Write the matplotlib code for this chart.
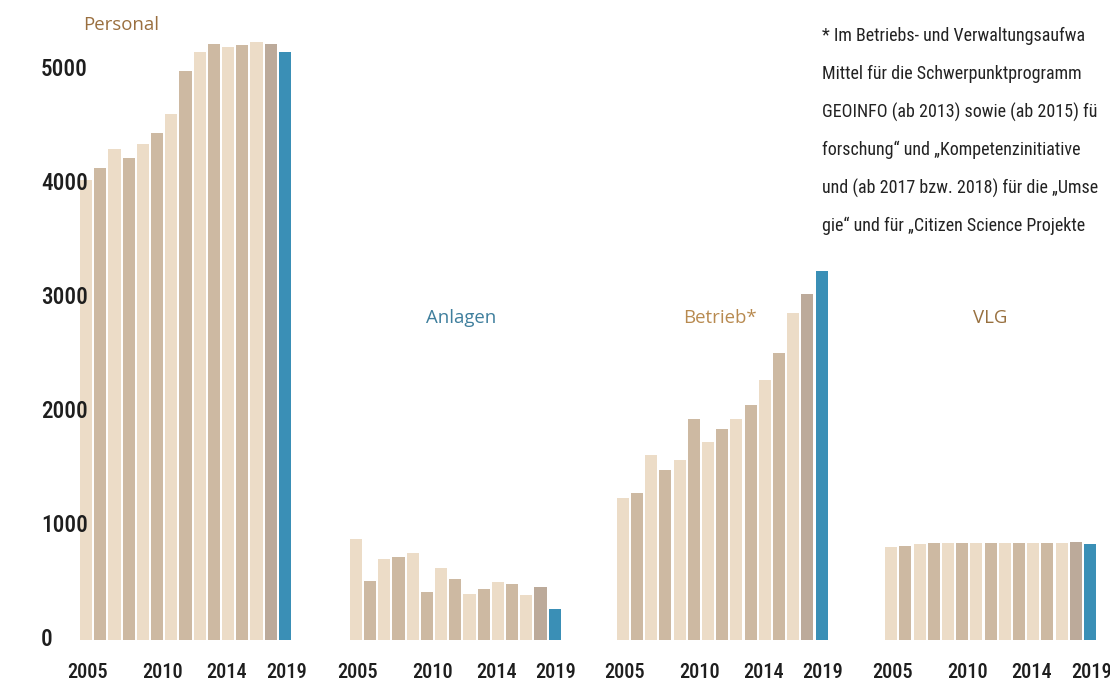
import os
import matplotlib
matplotlib.use("Agg")
import matplotlib.pyplot as plt
from matplotlib import font_manager as fm
from matplotlib.font_manager import FontProperties
from matplotlib.transforms import blended_transform_factory

years = list(range(2005, 2020))
groups = ["Personal", "Anlagen", "Betrieb*", "VLG"]
personal = [4035, 4140, 4310, 4230, 4350, 4450, 4610, 4990, 5160, 5230, 5200, 5220, 5250, 5230, 5160]
anlagen = [890, 520, 710, 730, 760, 420, 630, 535, 405, 445, 510, 490, 395, 465, 275]
betrieb = [1250, 1290, 1620, 1490, 1580, 1940, 1740, 1850, 1940, 2060, 2280, 2520, 2870, 3035, 3240]
vlg = [815, 825, 845, 855, 850, 855, 850, 855, 850, 855, 850, 855, 850, 860, 845]
series = [personal, anlagen, betrieb, vlg]
yticks = [0, 1000, 2000, 3000, 4000, 5000]
year_labels = ["2005", "2010", "2014", "2019"]
year_label_pos = [0.1, 5.4, 9.9, 14.1]
footnote = [
    "* Im Betriebs- und Verwaltungsaufwa",
    "Mittel für die Schwerpunktprogramm",
    "GEOINFO (ab 2013) sowie (ab 2015) fü",
    "forschung“ und „Kompetenzinitiative",
    "und (ab 2017 bzw. 2018) für die „Umse",
    "gie“ und für „Citizen Science Projekte",
]


def find_font(patterns):
    files = [f.fname for f in fm.fontManager.ttflist]
    for pat in patterns:
        for fn in files:
            if os.path.basename(fn).lower().startswith(pat.lower()):
                return fn
    return None


num_file = find_font(["RobotoCondensed-Medium", "LiberationSansNarrow-Bold.", "RobotoCondensed-Bold",
                      "NotoSans-CondensedSemiBold", "NotoSans-CondensedMedium", "NotoSans-CondensedBold",
                      "DejaVuSansCondensed-Bold."])
txt_file = find_font(["RobotoCondensed-Regular", "LiberationSansNarrow-Regular",
                      "NotoSans-Condensed.", "NotoSans-CondensedRegular", "DejaVuSansCondensed."])


def fp(fname, fallback_family, weight="normal"):
    if fname:
        return FontProperties(fname=fname)
    return FontProperties(family=fallback_family, stretch="condensed", weight=weight)


num_fp = fp(num_file, "DejaVu Sans", "bold")
txt_fp = fp(txt_file, "DejaVu Sans")

light = "#ecdcc7"
dark = "#cdb9a2"
c2018 = "#bcaa9a"
blue = "#3a8fb6"


def colors_for(n):
    cs = []
    for i in range(n):
        if i == n - 1:
            cs.append(blue)
        elif i == n - 2:
            cs.append(c2018)
        elif i % 2 == 0:
            cs.append(light)
        else:
            cs.append(dark)
    return cs


W, H = 1110, 683
fig = plt.figure(figsize=(W / 100, H / 100), dpi=100)
renderer = fig.canvas.get_renderer()


def size_for(text, prop, target_px):
    p = prop.copy()
    p.set_size(10)
    t = fig.text(0, 0, text, fontproperties=p)
    w = t.get_window_extent(renderer=renderer).width
    t.remove()
    return 10 * target_px / w


year_size = min(size_for("2005", num_fp, 41), 16)
ytick_size = min(size_for("5000", num_fp, 47), 18)
foot_size = min(min(size_for(line, txt_fp, 285) for line in footnote), 13)

ax = fig.add_axes([0, 0, 1, 1])
px_per_idx = 14.2
x0_px = 86.1
ax.set_xlim(-x0_px / px_per_idx, (W - x0_px) / px_per_idx)
px_per_unit = 0.114
zero_px = H - 640
ax.set_ylim(-zero_px / px_per_unit, (H - zero_px) / px_per_unit)
ax.axis("off")

yp = num_fp.copy()
yp.set_size(year_size)
offsets = [0, 19.0, 37.8, 56.7]
for g, vals in enumerate(series):
    xs = [offsets[g] + i for i in range(len(vals))]
    ax.bar(xs, vals, width=0.85, color=colors_for(len(vals)), edgecolor="none")
    for lab, p in zip(year_labels, year_label_pos):
        ax.text(offsets[g] + p, -285, lab, ha="center", va="center",
                fontproperties=yp, color="#1e1e1e")

tp = num_fp.copy()
tp.set_size(ytick_size)
trans = blended_transform_factory(fig.transFigure, ax.transData)
for t in yticks:
    ax.text(41 / W, t, str(t), transform=trans, ha="left", va="center",
            fontproperties=tp, color="#1e1e1e")

title_font = "Open Sans"
fig.text(83 / W, 1 - 25 / H, groups[0], ha="left", va="center", fontsize=13.4,
         family=title_font, color="#9a6f3f")
fig.text(461 / W, 1 - 318 / H, groups[1], ha="center", va="center", fontsize=13.4,
         family=title_font, color="#3f7f9d")
fig.text(720 / W, 1 - 318 / H, groups[2], ha="center", va="center", fontsize=13.4,
         family=title_font, color="#b88a50")
fig.text(990 / W, 1 - 318 / H, groups[3], ha="center", va="center", fontsize=13.4,
         family=title_font, color="#98703f")

fnp = txt_fp.copy()
fnp.set_size(foot_size)
for k, line in enumerate(footnote):
    fig.text(822 / W, 1 - (36 + 38 * k) / H, line, ha="left", va="center",
             fontproperties=fnp, color="#222222")

fig.savefig("out.png", dpi=100)
